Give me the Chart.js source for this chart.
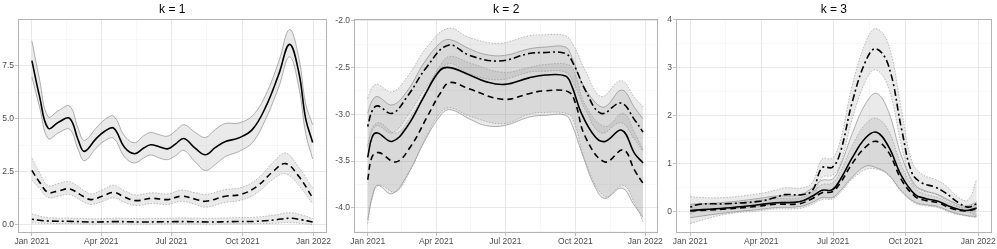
<!DOCTYPE html>
<html>
<head>
<meta charset="utf-8">
<script src="https://cdn.jsdelivr.net/npm/chart.js@4.4.3/dist/chart.umd.min.js"></script>
<style>
  html, body { margin: 0; padding: 0; background: #fff; }
  #wrap { position: relative; width: 997px; height: 249px; overflow: hidden; }
  canvas { position: absolute; top: 0; }
</style>
</head>
<body>
<div id="wrap">
  <canvas id="k1" width="332" height="249" style="left:0"></canvas>
  <canvas id="k2" width="332" height="249" style="left:332px"></canvas>
  <canvas id="k3" width="333" height="249" style="left:664px"></canvas>
</div>
<script>
// x axis: days since 1 Jan 2021
const xTickDays = [0, 90, 181, 273, 365];
const xTickLabels = ["Jan 2021", "Apr 2021", "Jul 2021", "Oct 2021", "Jan 2022"];
const xMinorDays = [45, 135.5, 227, 319];

// ---- k = 1 ----
const k1SolidDays = [0, 10, 21, 35, 49, 60, 68, 83, 94, 106, 120, 133, 145, 154, 165, 176, 186, 197, 212, 225, 238, 251, 268, 286, 303, 320, 334, 346, 355, 364];
const k1Solid   = [7.75, 6.05, 4.56, 4.85, 5.02, 4.0, 3.46, 4.05, 4.4, 4.56, 3.65, 3.35, 3.62, 3.77, 3.68, 3.58, 3.8, 4.07, 3.6, 3.3, 3.65, 3.93, 4.09, 4.5, 5.55, 7.1, 8.52, 7.2, 5.0, 3.88];
const k1SolidLo = [6.97, 5.55, 4.07, 4.35, 4.5, 3.55, 3.02, 3.6, 3.95, 4.08, 3.2, 2.91, 3.15, 3.29, 3.15, 3.07, 3.25, 3.5, 2.95, 2.56, 2.85, 3.22, 3.45, 3.88, 4.98, 6.5, 7.93, 6.5, 4.3, 3.1];
const k1SolidHi = [8.69, 6.85, 5.1, 5.4, 5.6, 4.55, 3.98, 4.55, 4.95, 5.12, 4.2, 3.87, 4.2, 4.35, 4.25, 4.18, 4.42, 4.72, 4.35, 4.12, 4.5, 4.78, 4.8, 5.15, 6.12, 7.7, 9.22, 7.9, 5.7, 4.72];

const k1DashDays = [0, 10, 21, 35, 49, 68, 77, 92, 106, 120, 135, 155, 176, 194, 212, 225, 251, 271, 292, 313, 329, 346, 364];
const k1Dash   = [2.56, 2.0, 1.52, 1.6, 1.68, 1.3, 1.18, 1.35, 1.52, 1.3, 1.13, 1.24, 1.18, 1.34, 1.2, 1.1, 1.34, 1.42, 1.81, 2.52, 2.88, 2.28, 1.26];
const k1DashLo = [2.1, 1.7, 1.28, 1.35, 1.42, 1.05, 0.95, 1.1, 1.27, 1.05, 0.9, 1.0, 0.95, 1.1, 0.95, 0.82, 1.05, 1.15, 1.5, 2.15, 2.4, 1.85, 0.98];
const k1DashHi = [3.14, 2.45, 1.85, 1.95, 2.02, 1.6, 1.45, 1.65, 1.85, 1.6, 1.4, 1.5, 1.45, 1.63, 1.5, 1.42, 1.65, 1.75, 2.15, 2.95, 3.38, 2.7, 1.72];

const k1DotDays = [0, 20, 50, 80, 110, 140, 170, 200, 230, 260, 290, 315, 335, 350, 364];
const k1Dot   = [0.25, 0.17, 0.15, 0.12, 0.14, 0.12, 0.13, 0.14, 0.12, 0.14, 0.15, 0.22, 0.3, 0.22, 0.12];
const k1DotLo = [0.08, 0.05, 0.04, 0.02, 0.03, 0.02, 0.03, 0.03, 0.02, 0.03, 0.04, 0.06, 0.1, 0.05, 0.0];
const k1DotHi = [0.5, 0.33, 0.3, 0.27, 0.3, 0.28, 0.29, 0.31, 0.29, 0.32, 0.35, 0.45, 0.56, 0.45, 0.28];

// ---- k = 2 ----
const k2SolidDays = [0, 6, 13, 32, 52, 74, 95, 108, 134, 155, 180, 212, 234, 260, 268, 281, 299, 312, 334, 351, 362];
const k2Solid   = [-3.46, -3.24, -3.2, -3.29, -3.13, -2.81, -2.53, -2.5, -2.58, -2.65, -2.68, -2.61, -2.58, -2.59, -2.69, -2.99, -3.24, -3.29, -3.17, -3.42, -3.52];
const k2SolidLo = [-4.13, -3.88, -3.76, -3.85, -3.65, -3.3, -3.02, -2.95, -3.05, -3.12, -3.12, -3.03, -3.01, -3.01, -3.1, -3.4, -3.78, -3.9, -3.79, -3.98, -4.1];
const k2SolidHi = [-2.99, -2.85, -2.81, -2.9, -2.75, -2.45, -2.24, -2.2, -2.3, -2.36, -2.37, -2.3, -2.28, -2.28, -2.38, -2.65, -2.87, -2.92, -2.74, -2.93, -3.05];

const k2DashDays = [0, 6, 15, 37, 56, 78, 95, 108, 134, 178, 212, 230, 264, 273, 286, 312, 336, 351, 362];
const k2Dash   = [-3.7, -3.45, -3.41, -3.51, -3.35, -3.03, -2.78, -2.66, -2.73, -2.84, -2.78, -2.75, -2.76, -2.88, -3.24, -3.51, -3.38, -3.6, -3.74];
const k2DashLo = [-4.17, -3.9, -3.76, -3.83, -3.6, -3.22, -2.99, -2.93, -3.02, -3.1, -3.0, -2.98, -3.0, -3.12, -3.5, -3.88, -3.76, -3.95, -4.15];
const k2DashHi = [-3.35, -3.15, -3.09, -3.2, -3.03, -2.73, -2.48, -2.38, -2.45, -2.55, -2.5, -2.47, -2.47, -2.58, -2.9, -3.13, -2.99, -3.2, -3.38];

const k2DotDays = [0, 6, 13, 32, 52, 78, 106, 134, 173, 212, 230, 260, 271, 286, 307, 333, 351, 362];
const k2Dot   = [-3.13, -2.96, -2.91, -2.99, -2.81, -2.49, -2.26, -2.37, -2.43, -2.35, -2.34, -2.35, -2.47, -2.74, -2.99, -2.88, -3.06, -3.19];
const k2DotLo = [-3.33, -3.17, -3.12, -3.2, -3.02, -2.7, -2.46, -2.57, -2.63, -2.55, -2.54, -2.55, -2.67, -2.95, -3.2, -3.09, -3.27, -3.4];
const k2DotHi = [-2.83, -2.71, -2.68, -2.76, -2.6, -2.28, -2.08, -2.18, -2.24, -2.16, -2.15, -2.16, -2.27, -2.53, -2.81, -2.64, -2.82, -2.92];

// ---- k = 3 ----
const k3Days = [0, 45, 87, 108, 138, 155, 167, 180, 190, 205, 222, 236, 251, 268, 285, 298, 314, 331, 348, 363];
const k3Solid   = [0.03, 0.08, 0.15, 0.19, 0.21, 0.33, 0.45, 0.46, 0.67, 1.12, 1.54, 1.66, 1.37, 0.74, 0.36, 0.28, 0.22, 0.1, 0.03, 0.08];
const k3SolidLo = [-0.12, -0.02, 0.05, 0.09, 0.11, 0.2, 0.3, 0.3, 0.44, 0.72, 0.95, 0.92, 0.78, 0.43, 0.2, 0.15, 0.11, 0.0, -0.07, -0.1];
const k3SolidHi = [0.16, 0.2, 0.28, 0.33, 0.35, 0.5, 0.66, 0.68, 0.95, 1.62, 2.25, 2.47, 2.1, 1.15, 0.56, 0.44, 0.36, 0.22, 0.12, 0.2];
const k3Dash   = [0.02, 0.06, 0.12, 0.16, 0.17, 0.28, 0.4, 0.42, 0.6, 1.0, 1.35, 1.47, 1.25, 0.66, 0.32, 0.24, 0.19, 0.07, 0.02, 0.06];
const k3DashLo = [-0.24, -0.05, 0.02, 0.06, 0.07, 0.16, 0.26, 0.27, 0.4, 0.68, 0.88, 0.89, 0.77, 0.41, 0.18, 0.13, 0.09, -0.02, -0.08, -0.12];
const k3DashHi = [0.14, 0.17, 0.24, 0.28, 0.29, 0.42, 0.57, 0.6, 0.83, 1.37, 1.83, 1.95, 1.7, 0.95, 0.48, 0.37, 0.3, 0.16, 0.09, 0.14];

const k3DotDays = [0, 12, 45, 87, 108, 120, 142, 155, 167, 180, 190, 205, 222, 235, 251, 268, 281, 294, 310, 323, 340, 352, 363];
const k3Dot   = [0.1, 0.16, 0.17, 0.22, 0.3, 0.36, 0.36, 0.45, 0.92, 0.93, 1.23, 2.27, 3.13, 3.4, 3.06, 1.71, 0.81, 0.6, 0.52, 0.4, 0.19, 0.1, 0.17];
const k3DotLo = [-0.05, 0.05, 0.06, 0.1, 0.17, 0.22, 0.23, 0.3, 0.72, 0.76, 0.98, 1.92, 2.72, 2.96, 2.6, 1.35, 0.6, 0.44, 0.38, 0.26, 0.1, 0.0, -0.08];
const k3DotHi = [0.32, 0.3, 0.3, 0.38, 0.45, 0.5, 0.5, 0.62, 1.1, 1.12, 1.48, 2.62, 3.52, 3.82, 3.5, 2.1, 1.05, 0.78, 0.68, 0.56, 0.3, 0.25, 0.68];

// y ticks
const k1YTicks = [0, 2.5, 5, 7.5];
const k1YLabels = ["0.0", "2.5", "5.0", "7.5"];
const k1YMinor = [1.25, 3.75, 6.25, 8.75];
const k2YTicks = [-4, -3.5, -3, -2.5, -2];
const k2YLabels = ["-4.0", "-3.5", "-3.0", "-2.5", "-2.0"];
const k2YMinor = [-4.25, -3.75, -3.25, -2.75, -2.25];
const k3YTicks = [0, 1, 2, 3, 4];
const k3YLabels = ["0", "1", "2", "3", "4"];
const k3YMinor = [0.5, 1.5, 2.5, 3.5];

const RIBBON = "rgba(128,128,128,0.17)";
const GRID_MAJOR = "#e2e2e2";
const GRID_MINOR = "#efefef";
const FRAME = "#b3b3b3";
const TEXT = "#4d4d4d";

Chart.defaults.font.family = "'Liberation Sans', Arial, sans-serif";

function series(days, mid, lo, hi, kind) {
  const pts = (arr) => days.map((d, i) => ({ x: d, y: arr[i] }));
  const edge = kind === "solid"
    ? { borderColor: "#8c8c8c", borderDash: [] }
    : { borderColor: "#9c9c9c", borderDash: [1.5, 1.5] };
  const dash = { solid: [], dashed: [6, 4], dotdash: [2, 3, 7, 3] }[kind];
  return [
    { data: pts(lo), borderWidth: 0.7, ...edge, fill: false, order: 1 },
    { data: pts(hi), borderWidth: 0.7, ...edge, fill: "-1", backgroundColor: RIBBON, order: 1 },
    { data: pts(mid), borderColor: "#000", borderWidth: 1.6, borderDash: dash, fill: false, order: 0 },
  ];
}

function tickList(major, minor) {
  return major.map((v) => ({ value: v }))
    .concat(minor.map((v) => ({ value: v, minor: true })))
    .sort((a, b) => a.value - b.value);
}

function labelFor(value, major, labels) {
  const i = major.findIndex((m) => Math.abs(m - value) < 1e-6);
  return i < 0 ? "" : labels[i];
}

const gridStyle = {
  color: (c) => (c.tick && c.tick.minor ? GRID_MINOR : GRID_MAJOR),
  lineWidth: (c) => (c.tick && c.tick.minor ? 0.5 : 0.8),
  tickColor: (c) => (c.tick && c.tick.minor ? "rgba(0,0,0,0)" : FRAME),
  tickLength: 3,
  tickWidth: 0.8,
};

const framePlugin = {
  id: "frame",
  afterDatasetsDraw(chart) {
    const a = chart.chartArea, ctx = chart.ctx;
    ctx.save();
    ctx.strokeStyle = FRAME;
    ctx.lineWidth = 1;
    ctx.strokeRect(Math.round(a.left) + 0.5, Math.round(a.top) + 0.5,
      Math.round(a.right - a.left) - 1, Math.round(a.bottom - a.top) - 1);
    ctx.restore();
  },
};

const titlePlugin = {
  id: "ptitle",
  afterDraw(chart, args, opts) {
    const a = chart.chartArea, ctx = chart.ctx;
    ctx.save();
    ctx.fillStyle = "#000";
    ctx.font = "12px 'Liberation Sans', Arial, sans-serif";
    ctx.textAlign = "center";
    ctx.textBaseline = "middle";
    ctx.fillText(opts.text, (a.left + a.right) / 2, 10);
    ctx.restore();
  },
};

function makePanel(id, p) {
  new Chart(document.getElementById(id), {
    type: "line",
    data: { datasets: p.datasets },
    plugins: [framePlugin, titlePlugin],
    options: {
      responsive: false,
      animation: false,
      events: [],
      layout: { padding: { top: 19, right: p.padRight, bottom: 0, left: 0 } },
      elements: {
        point: { radius: 0 },
        line: { tension: 0.4, borderCapStyle: "butt" },
      },
      scales: {
        x: {
          type: "linear",
          min: -18,
          max: 382,
          afterBuildTicks: (s) => { s.ticks = tickList(xTickDays, xMinorDays); },
          afterFit: (s) => { s.height = 16; },
          grid: gridStyle,
          border: { display: false },
          ticks: {
            autoSkip: false,
            maxRotation: 0,
            padding: 1,
            color: TEXT,
            font: { size: 8.5 },
            callback: (v) => labelFor(v, xTickDays, xTickLabels),
          },
        },
        y: {
          min: p.yMin,
          max: p.yMax,
          afterBuildTicks: (s) => { s.ticks = tickList(p.yTicks, p.yMinor); },
          afterFit: (s) => { s.width = p.axisWidth; },
          grid: gridStyle,
          border: { display: false },
          ticks: {
            autoSkip: false,
            padding: 1,
            color: TEXT,
            font: { size: 8.5 },
            callback: (v) => labelFor(v, p.yTicks, p.yLabels),
          },
        },
      },
      plugins: {
        legend: { display: false },
        tooltip: { enabled: false },
        ptitle: { text: p.title },
      },
    },
  });
}

makePanel("k1", {
  title: "k = 1", yMin: -0.4, yMax: 9.72, axisWidth: 18, padRight: 2,
  yTicks: k1YTicks, yLabels: k1YLabels, yMinor: k1YMinor,
  datasets: [
    ...series(k1SolidDays, k1Solid, k1SolidLo, k1SolidHi, "solid"),
    ...series(k1DashDays, k1Dash, k1DashLo, k1DashHi, "dashed"),
    ...series(k1DotDays, k1Dot, k1DotLo, k1DotHi, "dotdash"),
  ],
});

makePanel("k2", {
  title: "k = 2", yMin: -4.27, yMax: -1.98, axisWidth: 22, padRight: 4,
  yTicks: k2YTicks, yLabels: k2YLabels, yMinor: k2YMinor,
  datasets: [
    ...series(k2SolidDays, k2Solid, k2SolidLo, k2SolidHi, "solid"),
    ...series(k2DashDays, k2Dash, k2DashLo, k2DashHi, "dashed"),
    ...series(k2DotDays, k2Dot, k2DotLo, k2DotHi, "dotdash"),
  ],
});

makePanel("k3", {
  title: "k = 3", yMin: -0.44, yMax: 4.02, axisWidth: 12, padRight: 5,
  yTicks: k3YTicks, yLabels: k3YLabels, yMinor: k3YMinor,
  datasets: [
    ...series(k3Days, k3Solid, k3SolidLo, k3SolidHi, "solid"),
    ...series(k3Days, k3Dash, k3DashLo, k3DashHi, "dashed"),
    ...series(k3DotDays, k3Dot, k3DotLo, k3DotHi, "dotdash"),
  ],
});
</script>
</body>
</html>
